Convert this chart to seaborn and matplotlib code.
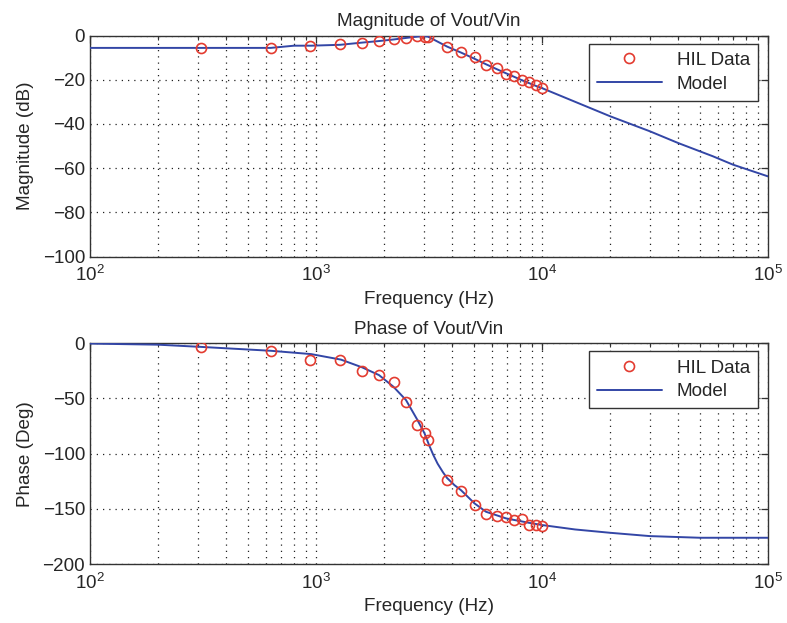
import numpy as np
import pandas as pd
import matplotlib
matplotlib.use("Agg")
import matplotlib.pyplot as plt
import seaborn as sns

# ---- data ----
hil_freq = [310, 630, 945, 1280, 1600, 1900, 2210, 2500, 2790, 3020, 3130,
            3800, 4380, 5030, 5650, 6290, 6930, 7520, 8120, 8760, 9360, 9950]
hil_mag = [-5.7, -5.7, -4.8, -3.9, -3.2, -2.5, -1.8, -1.0, 0.0, -0.7, -0.8,
           -5.3, -7.4, -9.6, -13.4, -14.8, -17.5, -18.5, -20.2, -21.1, -22.3, -23.8]
hil_phase = [-3.3, -7.2, -15.4, -15.4, -25.0, -29.2, -35.0, -53.0, -74.0, -81.6, -87.7,
             -123.9, -134.0, -146.5, -154.6, -156.1, -157.6, -160.0, -159.0, -164.6, -164.6, -165.2]

model_mag_freq = [100, 630, 800, 950, 1280, 1600, 1900, 2200, 2500, 2800, 3000, 3130,
                  3800, 4400, 5000, 5650, 6300, 6900, 7500, 8100, 8800, 9400, 10000,
                  20000, 30000, 40000, 57000, 70000, 100000]
model_mag = [-5.6, -5.6, -4.6, -4.6, -4.2, -3.2, -2.5, -1.8, -1.1, -0.5, -0.3, -0.5,
             -5.0, -7.8, -10.4, -13.0, -15.2, -17.0, -18.6, -20.1, -21.6, -22.8, -23.8,
             -36.5, -43.3, -48.6, -54.6, -58.4, -63.7]

model_ph_freq = [100, 200, 310, 630, 950, 1290, 1600, 1900, 2200, 2500, 2800, 3020, 3160,
                 3300, 3450, 3650, 3800, 4100, 4380, 5030, 5650, 6930, 8760, 10000,
                 14000, 20000, 30000, 50000, 100000]
model_phase = [-0.5, -1.5, -3.5, -7.0, -10.0, -15.0, -22.0, -29.0, -39.5, -51.5, -69.0, -81.6, -92.0,
               -101.0, -109.0, -117.0, -122.0, -128.5, -133.0, -145.0, -152.5, -158.5, -162.5, -164.5,
               -168.5, -171.5, -174.5, -176.0, -176.0]

titles = ["Magnitude of Vout/Vin", "Phase of Vout/Vin"]
ylabels = ["Magnitude (dB)", "Phase (Deg)"]
xlabel = "Frequency (Hz)"
yticks_list = [[0, -20, -40, -60, -80, -100], [0, -50, -100, -150, -200]]
ylims = [(-100, 0), (-200, 0)]

# ---- style ----
sns.set_style("white")
plt.rcParams['font.family'] = ['Liberation Sans', 'DejaVu Sans']
plt.rcParams['mathtext.fontset'] = 'custom'
plt.rcParams['mathtext.rm'] = 'Liberation Sans'
plt.rcParams['axes.unicode_minus'] = True
FS = 13.6

line_color = "#3346a6"
marker_color = "#e33b30"

fig = plt.figure(figsize=(7.87, 6.23), dpi=100)
ax1 = fig.add_axes([0.1144, 0.588, 0.8615, 0.355])
ax2 = fig.add_axes([0.1144, 0.0942, 0.8615, 0.3552])

model_sets = [(model_mag_freq, model_mag), (model_ph_freq, model_phase)]
hil_sets = [hil_mag, hil_phase]

for i, ax in enumerate([ax1, ax2]):
    mf, mv = model_sets[i]
    dfm = pd.DataFrame({"f": mf, "v": mv})
    dfh = pd.DataFrame({"f": hil_freq, "v": hil_sets[i]})
    sns.lineplot(data=dfm, x="f", y="v", ax=ax, color=line_color, linewidth=1.4,
                 estimator=None, sort=False, label="Model", zorder=3)
    sns.lineplot(data=dfh, x="f", y="v", ax=ax, linestyle="", marker="o",
                 markersize=7.2, markerfacecolor="none", markeredgecolor=marker_color,
                 markeredgewidth=1.2, color=marker_color, estimator=None, sort=False,
                 label="HIL Data", zorder=4)
    ax.set_xscale("log")
    ax.set_xlim(100, 100000)
    ax.set_ylim(*ylims[i])
    ax.set_yticks(yticks_list[i])
    ax.set_yticklabels([("\u2212" + str(-t)) if t < 0 else str(t) for t in yticks_list[i]])
    ax.grid(True, which="both", axis="x", linestyle=(0, (1, 4)), color="#222222", linewidth=0.9)
    ax.grid(True, which="major", axis="y", linestyle=(0, (1, 4)), color="#222222", linewidth=0.9)
    ax.tick_params(which="both", direction="in", top=True, right=True, labelsize=FS,
                   color="#333333")
    ax.tick_params(which="major", length=5, width=0.9)
    ax.tick_params(which="minor", length=3, width=0.8)
    ax.tick_params(axis="x", which="major", pad=6)
    for s in ax.spines.values():
        s.set_color("#333333")
        s.set_linewidth(1.0)
    ax.set_title(titles[i], fontsize=FS, pad=6.5)
    ax.set_xlabel(xlabel, fontsize=FS, labelpad=4)
    ax.set_ylabel(ylabels[i], fontsize=FS, labelpad=6)
    handles, labels = ax.get_legend_handles_labels()
    order = [labels.index("HIL Data"), labels.index("Model")]
    leg = ax.legend([handles[k] for k in order], [labels[k] for k in order],
                    loc="upper right", fontsize=FS, frameon=True, fancybox=False,
                    edgecolor="#333333", framealpha=1, borderpad=0.42,
                    labelspacing=0.35, handletextpad=0.8,
                    handlelength=3.4, borderaxespad=0.0, bbox_to_anchor=(0.985, 0.962))
    leg.get_frame().set_linewidth(1.0)

fig.savefig("out.png", dpi=100)
